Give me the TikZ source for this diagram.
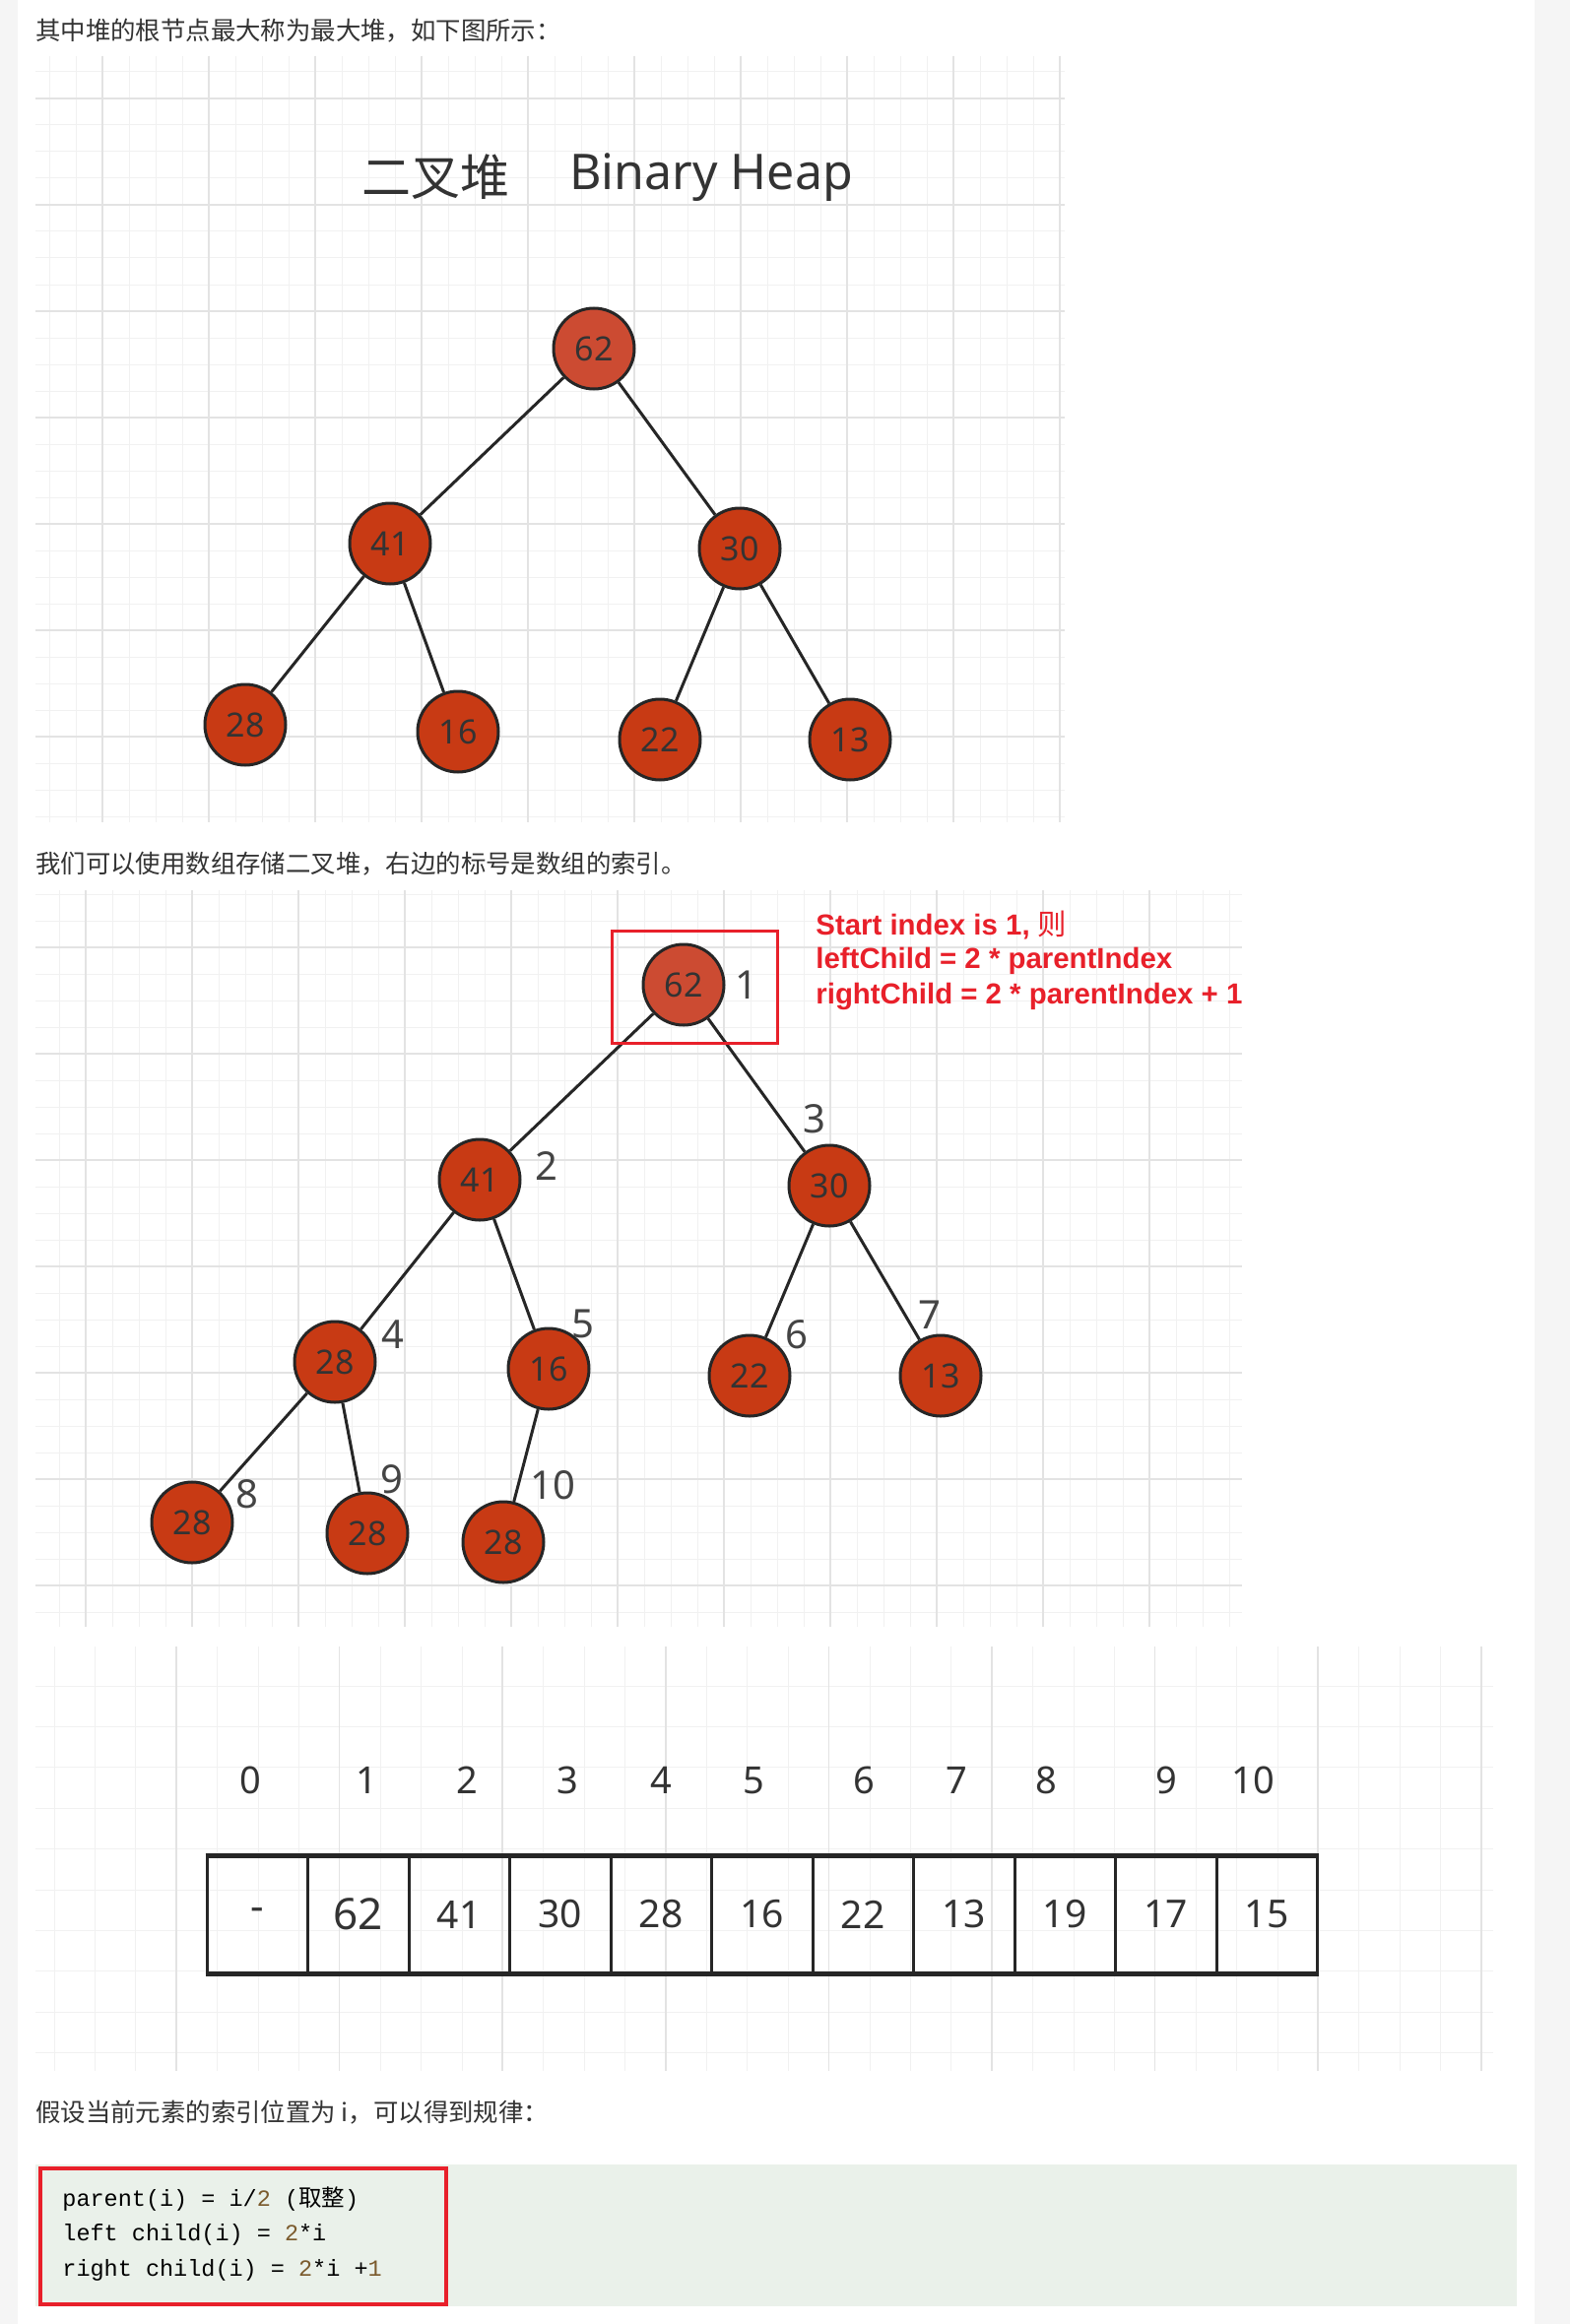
\documentclass[tikz,border=0pt]{standalone}
\usepackage{fontspec}
\setmainfont{Noto Sans}
\setmonofont{Liberation Mono}
\newfontfamily\cjk{Noto Sans CJK SC}
\newfontfamily\arialbf{Liberation Sans}[BoldFont={Liberation Sans Bold}]

\definecolor{pagegray}{HTML}{F5F5F5}
\definecolor{gridminor}{HTML}{F1F1F1}
\definecolor{gridmajor}{HTML}{E3E3E3}
\definecolor{heapred}{HTML}{C83A14}
\definecolor{rootred}{HTML}{CC4B32}
\definecolor{nodeline}{HTML}{262626}
\definecolor{numgray}{HTML}{333333}
\definecolor{idxgray}{HTML}{444444}
\definecolor{bodytext}{HTML}{333333}
\definecolor{redmark}{HTML}{E8202A}
\definecolor{codebg}{HTML}{EAF1EA}
\definecolor{codenum}{HTML}{7B5B2D}

\tikzset{
  heapnode/.style={circle, draw=nodeline, line width=1.5pt, fill=heapred, minimum size=41pt,
    inner sep=0pt, text=numgray, font=\fontsize{17}{17}\selectfont},
  rootnode/.style={heapnode, fill=rootred},
  link/.style={draw=nodeline, line width=1.5pt},
  idx/.style={inner sep=0pt, text=idxgray, font=\fontsize{20}{20}\selectfont},
  cell/.style={draw=nodeline, line width=1.5pt, minimum width=51.25pt, minimum height=59pt,
    inner sep=0pt, text=numgray},
  arrlabel/.style={inner sep=0pt, text=numgray, font=\fontsize{19}{19}\selectfont},
  bodyline/.style={anchor=west, inner sep=0pt, text=bodytext, font=\cjk\fontsize{12.7}{14}\selectfont},
  codeline/.style={anchor=west, inner sep=0pt, text=black, font=\ttfamily\fontsize{11.75}{14}\selectfont},
  redline/.style={anchor=west, inner sep=0pt, text=redmark, font=\arialbf\bfseries\fontsize{14.7}{18}\selectfont},
  minorline/.style={draw=gridminor, line width=0.5pt},
  majorline/.style={draw=gridmajor, line width=0.75pt}
}

\begin{document}
\begin{tikzpicture}[x=0.5pt,y=-0.5pt]
    \useasboundingbox (0,0) rectangle (1594,2360);
    \fill[pagegray] (0,0) rectangle (1594,2360);
    \fill[white] (18,0) rectangle (1558,2360);

    % grid behind the first tree
    \foreach \x in {50,77,...,1081} \draw[minorline] (\x,57) -- (\x,835);
    \foreach \y in {73,100,...,835} \draw[minorline] (36,\y) -- (1081,\y);
    \foreach \x in {104,212,...,1081} \draw[majorline] (\x,57) -- (\x,835);
    \foreach \y in {100,208,...,835} \draw[majorline] (36,\y) -- (1081,\y);

    % grid behind the indexed tree
    \foreach \x in {60,87,...,1261} \draw[minorline] (\x,904) -- (\x,1652);
    \foreach \y in {908,935,...,1652} \draw[minorline] (36,\y) -- (1261,\y);
    \foreach \x in {87,195,...,1261} \draw[majorline] (\x,904) -- (\x,1652);
    \foreach \y in {962,1070,...,1652} \draw[majorline] (36,\y) -- (1261,\y);

    % grid behind the array
    \foreach \x in {55,96.4,...,1516} \draw[minorline] (\x,1672) -- (\x,2103);
    \foreach \y in {1712,1753.4,...,2103} \draw[minorline] (36,\y) -- (1516,\y);
    \foreach \x in {179,344.6,...,1516} \draw[majorline] (\x,1672) -- (\x,2103);

    \node[bodyline] (t1) at (36,31) {其中堆的根节点最大称为最大堆，如下图所示：};
    \node[bodyline] (t2) at (36,877) {我们可以使用数组存储二叉堆，右边的标号是数组的索引。};
    \node[bodyline] (t3) at (36,2145) {假设当前元素的索引位置为 i，可以得到规律：};

    % first tree
    \node[anchor=west, inner sep=0pt, text=numgray, font=\cjk\fontsize{25}{25}\selectfont] (titlecn) at (367,180) {二叉堆};
    \node[anchor=west, inner sep=0pt, text=numgray, font=\fontsize{25}{25}\selectfont] (titleen) at (578,180) {Binary Heap};

    \node[rootnode] (a62) at (603,354) {62};
    \node[heapnode] (a41) at (396,552) {41};
    \node[heapnode] (a30) at (751,557) {30};
    \node[heapnode] (a28) at (249,736) {28};
    \node[heapnode] (a16) at (465,743) {16};
    \node[heapnode] (a22) at (670,751) {22};
    \node[heapnode] (a13) at (863,751) {13};
    \draw[link] (a62) -- (a41);
    \draw[link] (a62) -- (a30);
    \draw[link] (a41) -- (a28);
    \draw[link] (a41) -- (a16);
    \draw[link] (a30) -- (a22);
    \draw[link] (a30) -- (a13);

    % tree with array indices
    \node[rootnode] (b1) at (694,1000) {62};
    \node[heapnode] (b2) at (487,1198) {41};
    \node[heapnode] (b3) at (842,1204) {30};
    \node[heapnode] (b4) at (340,1383) {28};
    \node[heapnode] (b5) at (557,1390) {16};
    \node[heapnode] (b6) at (761,1397) {22};
    \node[heapnode] (b7) at (955,1397) {13};
    \node[heapnode] (b8) at (195,1546) {28};
    \node[heapnode] (b9) at (373,1557) {28};
    \node[heapnode] (b10) at (511,1566) {28};
    \draw[link] (b1) -- (b2);
    \draw[link] (b1) -- (b3);
    \draw[link] (b2) -- (b4);
    \draw[link] (b2) -- (b5);
    \draw[link] (b3) -- (b6);
    \draw[link] (b3) -- (b7);
    \draw[link] (b4) -- (b8);
    \draw[link] (b4) -- (b9);
    \draw[link] (b5) -- (b10);

\foreach \n/\x/\y in {1/758/1000, 2/555/1184, 3/827/1136, 4/399/1355, 5/592/1344,
    6/809/1355, 7/944/1335, 8/251/1517, 9/398/1502, 10/561/1508}
    \node[idx] (n\n) at (\x,\y) {\n};

    \draw[redmark, line width=1.5pt] (621,945) rectangle (789,1059);
    \node[redline] (rule0) at (828,940) {Start index is 1, {\cjk\mdseries 则}};
    \node[redline] (rule1) at (828,976) {leftChild = 2 * parentIndex};
    \node[redline] (rule2) at (828,1012) {rightChild = 2 * parentIndex + 1};

    % array
\foreach \i/\v/\s in {0/\textbf{-}/21, 1/62/22, 2/41/19.5, 3/30/19.5, 4/28/19.5, 5/16/19.5,
    6/22/19.5, 7/13/19.5, 8/19/19.5, 9/17/19.5, 10/15/19.5}
    \node[cell, font=\fontsize{\s}{\s}\selectfont] (c\i) at ({261.25+102.5*\i},1944) {\v};
    \draw[nodeline, line width=2pt] (c0.north west) -- (c10.north east);
    \draw[nodeline, line width=2pt] (c0.south west) -- (c10.south east);

\foreach \i/\x in {0/254, 1/372, 2/474, 3/576, 4/671, 5/765, 6/877, 7/971, 8/1062, 9/1184, 10/1272}
    \node[arrlabel] (i\i) at (\x,1808) {\i};

    % code block
    \fill[codebg] (36,2198) rectangle (1540,2342);
    \draw[redmark, line width=2pt] (41,2202) rectangle (453,2340);
    \node[codeline] (p1) at (63,2233) {parent(i) = i/\textcolor{codenum}{2} ({\cjk 取整})};
    \node[codeline] (p2) at (63,2269) {left child(i) = \textcolor{codenum}{2}*i};
    \node[codeline] (p3) at (63,2305) {right child(i) = \textcolor{codenum}{2}*i +\textcolor{codenum}{1}};
\end{tikzpicture}
\end{document}
